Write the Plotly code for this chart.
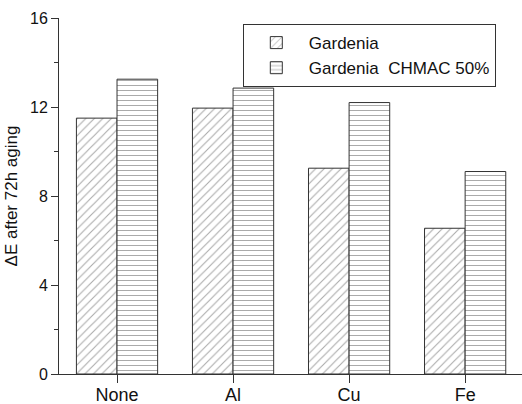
import plotly.graph_objects as go

categories = ["None", "Al", "Cu", "Fe"]
gardenia = [11.5, 11.95, 9.25, 6.55]
gardenia_chmac = [13.25, 12.85, 12.2, 9.1]
series_names = ["Gardenia", "Gardenia  CHMAC 50%"]

fig = go.Figure()
fig.add_trace(go.Bar(
    x=categories, y=gardenia, name=series_names[0],
    marker=dict(color="white", line=dict(color="#333333", width=1),
                pattern=dict(shape="/", fgcolor="#555555", bgcolor="white", size=6, solidity=0.18)),
))
fig.add_trace(go.Bar(
    x=categories, y=gardenia_chmac, name=series_names[1],
    marker=dict(color="white", line=dict(color="#333333", width=1),
                pattern=dict(shape="-", fgcolor="#555555", bgcolor="white", size=5, solidity=0.2)),
))

fam = "Liberation Sans, Arial, sans-serif"
fig.update_layout(
    width=522, height=404,
    margin=dict(l=59, r=0, t=18, b=30, autoexpand=False),
    plot_bgcolor="white", paper_bgcolor="white",
    barmode="group", bargap=0.3, bargroupgap=0,
    font=dict(family=fam, size=16, color="#111111"),
    showlegend=True,
    legend=dict(x=0.397, y=0.983, xanchor="left", yanchor="top",
                bordercolor="#333333", borderwidth=1, bgcolor="white",
                font=dict(family=fam, size=17, color="#111111"),
                tracegroupgap=0, itemwidth=55),
    xaxis=dict(range=[-0.5, 3.49], showline=True, linecolor="#333333", linewidth=1,
               ticks="outside", ticklen=8, tickcolor="#333333", showgrid=False,
               tickfont=dict(size=18), ticklabelstandoff=-4, automargin=False,
               minor=dict(ticks="outside", ticklen=5, tickcolor="#333333", showgrid=False)),
    yaxis=dict(range=[0, 16], tickvals=[0, 4, 8, 12, 16], showline=True, linecolor="#333333",
               linewidth=1, ticks="outside", ticklen=7, tickcolor="#333333", showgrid=False,
               zeroline=False, tickfont=dict(size=16), automargin=False,
               minor=dict(tickvals=[2, 6, 10, 14], ticks="outside", ticklen=4, tickcolor="#333333",
                          showgrid=False),
               title=dict(text="ΔE after 72h aging", font=dict(size=17), standoff=8)),
)
fig.write_html("out.html")
